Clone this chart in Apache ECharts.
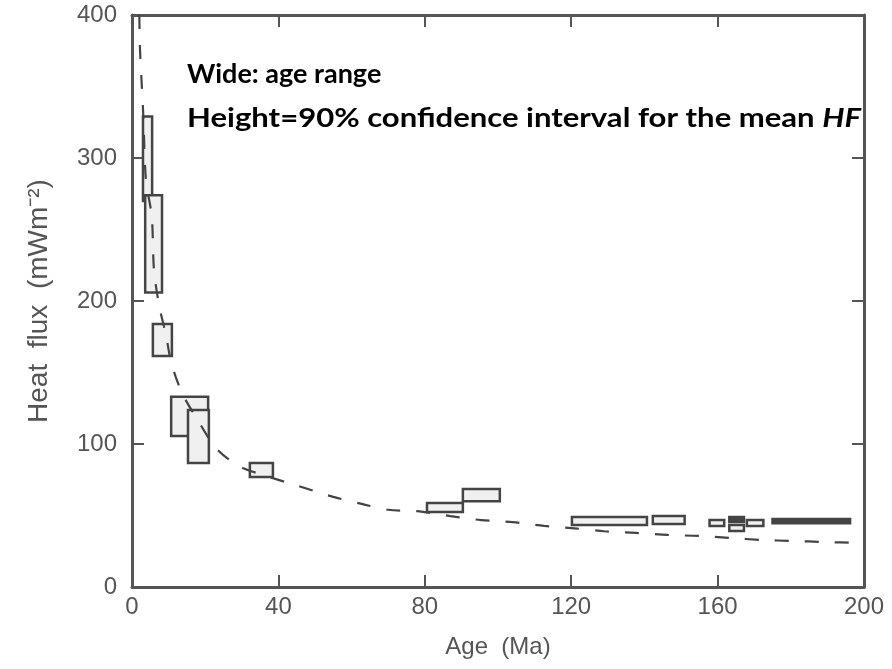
<!DOCTYPE html>
<html>
<head>
<meta charset="utf-8">
<script src="https://cdn.jsdelivr.net/npm/echarts@6/dist/echarts.min.js"></script>
<style>html,body{margin:0;padding:0;background:#fff;}#c{width:892px;height:669px;}</style>
</head>
<body>
<div id="c"></div>
<script>
// Boxes: age range (Ma) and 90% confidence interval of mean heat flux (mW m^-2)
var boxAgeMin = [3.0, 3.6, 5.7, 10.7, 15.3, 32.2, 80.6, 90.4, 120.2, 142.3, 157.8, 163.2, 163.2, 168.0, 175.0];
var boxAgeMax = [5.5, 8.2, 10.9, 20.8, 21.0, 38.5, 90.4, 100.5, 140.7, 151.0, 161.8, 167.2, 167.2, 172.5, 196.2];
var boxHFLow  = [270, 206, 161.5, 105.6, 86.7, 77, 52.4, 60, 43.4, 44, 42.7, 45.5, 39.2, 42.7, 44.6];
var boxHFHigh = [329, 274, 184, 133, 123.8, 86.7, 58.7, 68.5, 49, 49.7, 46.9, 49, 43.4, 46.9, 47.6];

// Dashed reference curve
var curveAge = [2.0, 2.2, 2.65, 3.1, 3.8, 5.4, 6.0, 7.4, 9.3, 10.8, 13.8, 17.9, 23, 29.2, 35, 45, 55, 63, 70, 78, 87, 95.4, 104, 112.6, 121, 129, 137.7, 146.4, 155, 163.4, 172, 180.6, 189, 198, 200];
var curveHF  = [400, 375, 352, 329, 285, 259, 222, 197, 176, 156, 135, 117, 97, 84.6, 79, 71, 63, 58, 54, 53, 49.6, 46.8, 45.4, 42.7, 41, 39, 37.8, 36.4, 35.7, 34.3, 32.9, 32.2, 31.5, 30.8, 30.6];

var xTicks = [0, 40, 80, 120, 160, 200];
var yTicks = [0, 100, 200, 300, 400];

var boxData = boxAgeMin.map(function (a, i) { return [a, boxAgeMax[i], boxHFLow[i], boxHFHigh[i]]; });
var curveData = curveAge.map(function (a, i) { return [a, curveHF[i]]; });

var axisColor = '#555';
var labelStyle = { color: '#555', fontFamily: 'Liberation Sans, Arial, sans-serif', fontSize: 24 };
var tickStyle = { show: true, inside: true, length: 12, lineStyle: { color: axisColor, width: 2 } };
var lineStyleAxis = { show: true, onZero: false, lineStyle: { color: axisColor, width: 3 } };

var chart = echarts.init(document.getElementById('c'), null, { renderer: 'canvas' });
chart.setOption({
  backgroundColor: '#fff',
  animation: false,
  grid: { left: 132, right: 28, top: 15, bottom: 82 },
  xAxis: [{
    type: 'value', min: xTicks[0], max: xTicks[xTicks.length - 1], interval: 40, position: 'bottom',
    name: 'Age  (Ma)', nameLocation: 'middle', nameGap: 48,
    nameTextStyle: labelStyle,
    axisLine: lineStyleAxis,
    axisTick: tickStyle,
    axisLabel: Object.assign({ margin: 8 }, labelStyle),
    splitLine: { show: false }
  }, {
    type: 'value', min: xTicks[0], max: xTicks[xTicks.length - 1], interval: 40, position: 'top',
    axisLine: lineStyleAxis,
    axisTick: tickStyle,
    axisLabel: { show: false },
    splitLine: { show: false }
  }],
  yAxis: [{
    type: 'value', min: yTicks[0], max: yTicks[yTicks.length - 1], interval: 100, position: 'left',
    name: 'Heat  flux  (mWm\u207B\u00B2)', nameLocation: 'middle', nameGap: 79, nameRotate: 90,
    nameTextStyle: Object.assign({}, labelStyle, { fontSize: 28 }),
    axisLine: lineStyleAxis,
    axisTick: tickStyle,
    axisLabel: Object.assign({ margin: 15 }, labelStyle),
    splitLine: { show: false }
  }, {
    type: 'value', min: yTicks[0], max: yTicks[yTicks.length - 1], interval: 100, position: 'right',
    axisLine: lineStyleAxis,
    axisTick: tickStyle,
    axisLabel: { show: false },
    splitLine: { show: false }
  }],
  series: [{
    type: 'custom',
    xAxisIndex: 0, yAxisIndex: 0,
    data: boxData,
    z: 2,
    renderItem: function (params, api) {
      var p0 = api.coord([api.value(0), api.value(3)]);
      var p1 = api.coord([api.value(1), api.value(2)]);
      var h = p1[1] - p0[1];
      return {
        type: 'rect',
        shape: { x: p0[0], y: p0[1], width: p1[0] - p0[0], height: h },
        style: { fill: h < 6 ? '#444' : '#f0f0f0', stroke: '#444', lineWidth: 2.5 }
      };
    }
  }, {
    type: 'line',
    xAxisIndex: 0, yAxisIndex: 0,
    data: curveData,
    showSymbol: false, symbol: 'none', smooth: 0.3,
    z: 3,
    lineStyle: { color: '#444', width: 2.2, type: [14, 16] }
  }],
  graphic: [{
    type: 'text', left: 187, top: 61, z: 10,
    style: { text: 'Wide: age range', fill: '#000', font: 'bold 27px Lato, "Open Sans", sans-serif' }
  }, {
    type: 'text', left: 187, top: 105, z: 10, scaleX: 1.15,
    style: {
      text: '{n|Height=90% confidence interval for the mean }{i|HF}',
      rich: {
        n: { fill: '#000', font: 'bold 27px Lato, "Open Sans", sans-serif' },
        i: { fill: '#000', font: 'italic bold 27px Lato, "Open Sans", sans-serif' }
      }
    }
  }]
});
</script>
</body>
</html>
